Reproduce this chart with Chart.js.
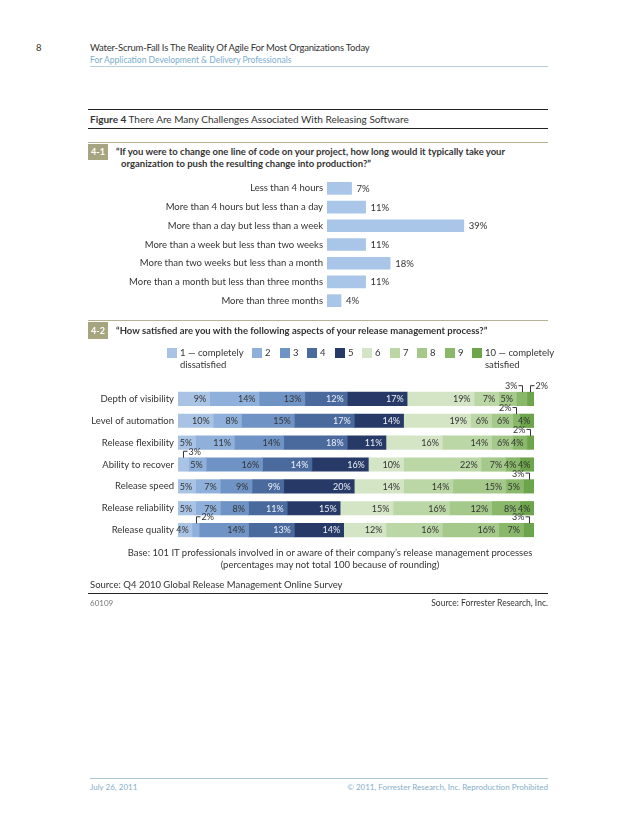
<!DOCTYPE html>
<html><head><meta charset="utf-8">
<script src="https://cdn.jsdelivr.net/npm/chart.js@4.4.1/dist/chart.umd.min.js"></script>
<style>
html,body{margin:0;padding:0;background:#fff;}
body{width:638px;height:826px;position:relative;overflow:hidden;font-family:Lato,"Open Sans",sans-serif;color:#333;}
.t{position:absolute;white-space:nowrap;}
.rule{position:absolute;height:0;}
canvas{position:absolute;}
.sw{position:absolute;width:10px;height:10px;}
</style></head><body>
<div class="t" style="left:36px;top:42px;font-size:9.5px;line-height:12px;">8</div>
<div class="t" style="left:90px;top:42px;font-size:9.5px;line-height:12px;letter-spacing:-0.2px;">Water-Scrum-Fall Is The Reality Of Agile For Most Organizations Today</div>
<div class="t" style="left:90px;top:54px;font-size:8.5px;line-height:12px;color:#79aed0;">For Application Development &amp; Delivery Professionals</div>
<div class="rule" style="left:90px;top:66px;width:458px;border-top:1px solid #b6cfdb;"></div>

<div class="rule" style="left:88px;top:109px;width:460px;border-top:1.5px solid #222;"></div>
<div class="t" style="left:90px;top:112px;font-size:10px;line-height:14px;"><b>Figure 4</b> There Are Many Challenges Associated With Releasing Software</div>
<div class="rule" style="left:88px;top:128px;width:460px;border-top:1px solid #222;"></div>

<div class="rule" style="left:88px;top:142px;width:460px;border-top:1px solid #b3b292;"></div>
<div class="t" style="left:88px;top:144px;width:20px;height:16px;background:#a6a57f;color:#fff;font-weight:bold;font-size:9px;line-height:16px;text-align:center;">4-1</div>
<div class="t" style="left:116px;top:146px;font-size:9.5px;line-height:12px;font-weight:bold;">“If you were to change one line of code on your project, how long would it typically take your</div>
<div class="t" style="left:121px;top:158px;font-size:9.5px;line-height:12px;font-weight:bold;">organization to push the resulting change into production?”</div>

<canvas id="c1" width="420" height="155" style="left:100px;top:167px;"></canvas>

<div class="rule" style="left:88px;top:320px;width:460px;border-top:1px solid #b3b292;"></div>
<div class="t" style="left:88px;top:322px;width:20px;height:17px;background:#a6a57f;color:#fff;font-weight:bold;font-size:9px;line-height:17px;text-align:center;">4-2</div>
<div class="t" style="left:116px;top:325px;font-size:9.5px;line-height:12px;font-weight:bold;">“How satisfied are you with the following aspects of your release management process?”</div>

<div id="legend"></div>

<canvas id="c2" width="494" height="185" style="left:60px;top:368px;"></canvas>

<div class="t" style="left:0;width:660px;top:547px;font-size:9.5px;line-height:12px;text-align:center;">Base: 101 IT professionals involved in or aware of their company’s release management processes</div>
<div class="t" style="left:0;width:660px;top:559px;font-size:9.5px;line-height:12px;text-align:center;">(percentages may not total 100 because of rounding)</div>
<div class="t" style="left:90px;top:579px;font-size:9.5px;line-height:12px;">Source: Q4 2010 Global Release Management Online Survey</div>
<div class="rule" style="left:88px;top:593px;width:460px;border-top:1px solid #222;"></div>
<div class="t" style="left:90px;top:597px;font-size:8px;line-height:12px;color:#777;">60109</div>
<div class="t" style="right:90px;top:597px;font-size:8.5px;line-height:12px;">Source: Forrester Research, Inc.</div>

<div class="rule" style="left:90px;top:778px;width:458px;border-top:1px solid #a9c4d2;"></div>
<div class="t" style="left:90px;top:781px;font-size:8px;line-height:12px;color:#86aecb;">July 26, 2011</div>
<div class="t" style="right:90px;top:781px;font-size:8px;line-height:12px;color:#86aecb;">© 2011, Forrester Research, Inc. Reproduction Prohibited</div>

<script>
// ---- Data: Figure 4-1 ----
const waitCategories = [
  'Less than 4 hours',
  'More than 4 hours but less than a day',
  'More than a day but less than a week',
  'More than a week but less than two weeks',
  'More than two weeks but less than a month',
  'More than a month but less than three months',
  'More than three months'
];
const waitValues = [7, 11, 39, 11, 18, 11, 4];

// ---- Data: Figure 4-2 ----
const aspects = ['Depth of visibility', 'Level of automation', 'Release flexibility',
  'Ability to recover', 'Release speed', 'Release reliability', 'Release quality'];
const ratingLabels = ['1 — completely|dissatisfied', '2', '3', '4', '5', '6', '7', '8', '9', '10 — completely|satisfied'];
const rating1  = [9, 10, 5, 3, 5, 5, 4];
const rating2  = [14, 8, 11, 5, 7, 7, 2];
const rating3  = [13, 15, 14, 16, 9, 8, 14];
const rating4  = [12, 17, 18, 14, 9, 11, 13];
const rating5  = [17, 14, 11, 16, 20, 15, 14];
const rating6  = [19, 19, 16, 10, 14, 15, 12];
const rating7  = [7, 6, 14, 22, 14, 16, 16];
const rating8  = [5, 6, 6, 7, 15, 12, 16];
const rating9  = [3, 2, 4, 4, 5, 8, 7];
const rating10 = [2, 4, 2, 4, 3, 4, 3];

const ratingSeries = [rating1, rating2, rating3, rating4, rating5, rating6, rating7, rating8, rating9, rating10];
const ratingColors = ['#a8c3e4', '#8fb0da', '#7093c5', '#4a6a9e', '#273a67', '#d4e5c5', '#bcd7a6', '#a4c98a', '#89b86a', '#6ca54b'];
const FONT = 'Lato, "Open Sans", sans-serif';

// legend (HTML, built from arrays)
const legendX = [167, 252, 280, 307, 335, 362, 390, 417, 445, 472];
const lg = document.getElementById('legend');
ratingLabels.forEach((lab, i) => {
  const sw = document.createElement('div');
  sw.className = 'sw';
  sw.style.left = legendX[i] + 'px'; sw.style.top = '348px'; sw.style.background = ratingColors[i];
  lg.appendChild(sw);
  lab.split('|').forEach((line, k) => {
    const t = document.createElement('div');
    t.className = 't';
    t.style.left = (legendX[i] + 13) + 'px';
    t.style.top = (347 + k * 12) + 'px';
    t.style.fontSize = '9.5px'; t.style.lineHeight = '12px';
    t.textContent = line;
    lg.appendChild(t);
  });
});

// ---- Chart 4-1 ----
const valueLabels1 = {
  id: 'valueLabels1',
  afterDatasetsDraw(chart) {
    const ctx = chart.ctx;
    ctx.save();
    ctx.font = '9.5px ' + FONT;
    ctx.fillStyle = '#333';
    ctx.textAlign = 'left'; ctx.textBaseline = 'middle';
    chart.getDatasetMeta(0).data.forEach((el, i) => {
      ctx.fillText(waitValues[i] + '%', el.x + 5, el.y + 0.5);
    });
    ctx.restore();
  }
};
new Chart(document.getElementById('c1'), {
  type: 'bar',
  data: { labels: waitCategories, datasets: [{ data: waitValues, backgroundColor: '#a9c6e8', borderWidth: 0, barThickness: 12 }] },
  options: {
    indexAxis: 'y', responsive: false, animation: false,
    layout: { padding: { top: 12, bottom: 12, left: 0, right: 0 } },
    plugins: { legend: { display: false }, tooltip: { enabled: false } },
    scales: {
      x: { display: false, min: 0, max: 55 },
      y: {
        grid: { display: false, drawTicks: false }, border: { display: false },
        ticks: { color: '#333', font: { family: FONT, size: 9.5 }, padding: 4 },
        afterFit(s) { s.width = 227; }
      }
    }
  },
  plugins: [valueLabels1]
});

// ---- Chart 4-2 ----
const valueLabels2 = {
  id: 'valueLabels2',
  afterDatasetsDraw(chart) {
    const ctx = chart.ctx;
    ctx.save();
    ctx.font = '9px ' + FONT;
    ctx.textBaseline = 'middle';
    ctx.lineWidth = 1;
    chart.data.datasets.forEach((ds, d) => {
      chart.getDatasetMeta(d).data.forEach((el, i) => {
        const v = ds.data[i];
        const left = Math.min(el.x, el.base), right = Math.max(el.x, el.base);
        const top = el.y - el.height / 2;
        if (v <= 3) {
          const cx = (left + right) / 2;
          const prev = d > 0 ? chart.data.datasets[d - 1].data[i] : 99;
          const textRight = d < 5 || (d === 9 && prev <= 3);
          const ly = top - 6.5;
          const px = Math.round(cx) + 0.5;
          ctx.strokeStyle = '#333';
          ctx.beginPath();
          ctx.moveTo(px, top);
          ctx.lineTo(px, ly);
          ctx.lineTo(px + (textRight ? 4 : -4), ly);
          ctx.stroke();
          ctx.fillStyle = '#333';
          ctx.textAlign = textRight ? 'left' : 'right';
          ctx.fillText(v + '%', px + (textRight ? 5 : -5), ly + 0.5);
        } else {
          ctx.fillStyle = (d === 3 || d === 4) ? '#eef1f7' : '#333';
          ctx.textAlign = 'right';
          ctx.fillText(v + '%', right - 3.5, el.y + 0.5);
        }
      });
    });
    ctx.restore();
  }
};
new Chart(document.getElementById('c2'), {
  type: 'bar',
  data: {
    labels: aspects,
    datasets: ratingSeries.map((s, i) => ({
      label: ratingLabels[i].replace('|', ' '), data: s,
      backgroundColor: ratingColors[i], borderWidth: 0, barThickness: 13.5
    }))
  },
  options: {
    indexAxis: 'y', responsive: false, animation: false,
    layout: { padding: { top: 20, right: 20, left: 0, bottom: 12 } },
    plugins: { legend: { display: false }, tooltip: { enabled: false } },
    scales: {
      x: { display: false, stacked: true, min: 0, max: 101 },
      y: {
        stacked: true,
        grid: { display: false, drawTicks: false }, border: { display: false },
        ticks: { color: '#333', font: { family: FONT, size: 9.5 }, padding: 4 },
        afterFit(s) { s.width = 118; }
      }
    }
  },
  plugins: [valueLabels2]
});
</script>
</body></html>
